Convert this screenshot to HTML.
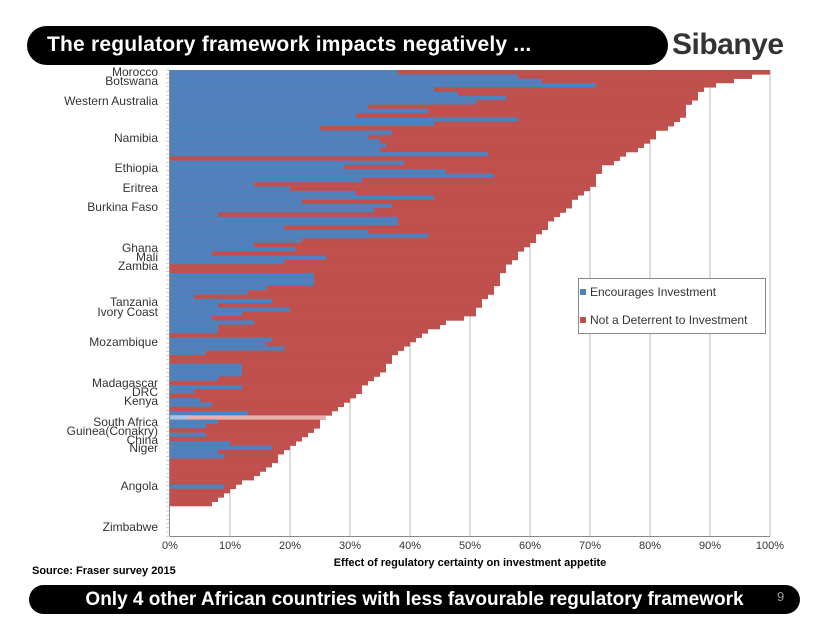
<!DOCTYPE html>
<html><head><meta charset="utf-8"><style>
body{margin:0;width:830px;height:623px;background:#fff;overflow:hidden;position:relative;font-family:"Liberation Sans",sans-serif}
.hdr{position:absolute;left:27px;top:26px;width:641px;height:39px;background:#000;border-radius:20px}
.hdr span{position:absolute;left:20px;top:7px;color:#fff;font-weight:bold;font-size:21px;letter-spacing:0.2px}
.logo{position:absolute;left:672px;top:28px;font-size:30px;font-weight:bold;color:#333;letter-spacing:-0.5px}
.ftr{position:absolute;left:29px;top:585px;width:771px;height:29px;background:#000;border-radius:15px;text-align:center;color:#fff;font-weight:bold;font-size:19px;line-height:29px}
.pg{position:absolute;left:777px;top:589px;color:#999;font-size:13px}
.src{position:absolute;left:32px;top:565px;font-size:11px;font-weight:bold;color:#000}
</style></head><body>
<div class="hdr"><span>The regulatory framework impacts negatively ...</span></div>
<div class="logo">Sibanye</div>
<svg id="c" width="830" height="623" style="position:absolute;left:0;top:0"></svg>
<div class="src">Source: Fraser survey 2015</div>
<div class="ftr">Only 4 other African countries with less favourable regulatory framework</div>
<div class="pg">9</div>
<script>
(function(){
var blue=[38,58,62,71,44,48,56,51,33,43,31,58,44,25,37,33,35,36,35,53,0,39,29,46,54,32,14,20,31,44,22,37,34,8,38,38,19,33,43,22,14,21,7,26,19,0,0,
24,24,24,16,13,4,17,8,20,12,7,14,8,8,0,17,16,19,6,0,0,12,12,12,8,0,12,4,0,5,7,0,13,-1,8,6,0,6,0,10,17,8,9,0,0,0,0,0,0,9,0,0,0,0];
var edge=[[70,770],[74,765],[78,747],[82,729],[86,712],[93,700],[100,694],[108,688],[118,682],[127,670],[132,658],[140,652],[148,640],[153,628],[160,620],[167,602],[180,597],[188,590],[193,585],[202,573],[213,562],[223,549],[232,543],[243,531],[250,525],[260,513],[273,501],[290,495],[315,472],[320,455],[330,430],[337,418],[343,412],[350,400],[355,394],[367,388],[380,370],[395,358],[415,327],[430,315],[440,303],[447,290],[470,266],[480,248],[490,230],[500,218],[507,212]];
function ex(y){for(var i=0;i<edge.length-1;i++){if(y<=edge[i+1][0]){var a=edge[i],b=edge[i+1];return a[1]+(b[1]-a[1])*(y-a[0])/(b[0]-a[0]);}}return 212;}
var s='',n=blue.length,y0=70,y1=506,h=(y1-y0)/n;
for(var g=1;g<=10;g++){var x=170+g*60;s+='<line x1="'+x+'" y1="70" x2="'+x+'" y2="536" stroke="#b8b8b8" stroke-width="1"/>';}
for(var i=0;i<n;i++){var y=y0+i*h,t=ex(y+h/2);t=Math.round((t-170)/6)*6+170;
 var b=blue[i];
 if(b<0){s+='<rect x="170" y="'+y.toFixed(2)+'" width="'+(t-170)+'" height="'+(h+0.3).toFixed(2)+'" fill="#e9b0ae"/><rect x="170" y="'+y.toFixed(2)+'" width="18" height="'+(h+0.3).toFixed(2)+'" fill="#a9c3e4"/>';continue;}
 s+='<rect x="170" y="'+y.toFixed(2)+'" width="'+(t-170)+'" height="'+(h+0.3).toFixed(2)+'" fill="#c0504d"/>';
 if(b>0)s+='<rect x="170" y="'+y.toFixed(2)+'" width="'+(b*6)+'" height="'+(h+0.3).toFixed(2)+'" fill="#4f81bd"/>';}
s+='<line x1="169.5" y1="70" x2="169.5" y2="536" stroke="#888"/><line x1="170" y1="536.5" x2="770" y2="536.5" stroke="#888"/>';
for(var k=0;k<112;k++){var yy=70+k*4.2;s+='<line x1="166" y1="'+yy.toFixed(1)+'" x2="170" y2="'+yy.toFixed(1)+'" stroke="#aaa" stroke-width="0.6"/>';}
for(var g=0;g<=10;g++){s+='<text x="'+(170+g*60)+'" y="549" font-size="11" text-anchor="middle" fill="#333">'+(g*10)+'%</text>';}
s+='<text x="470" y="566" font-size="11" font-weight="bold" text-anchor="middle">Effect of regulatory certainty on investment appetite</text>';
var L=[["Morocco",76],["Botswana",85],["Western Australia",105],["Namibia",142],["Ethiopia",172],["Eritrea",192],["Burkina Faso",211],["Ghana",252],["Mali",261],["Zambia",270],["Tanzania",306],["Ivory Coast",316],["Mozambique",346],["Madagascar",387],["DRC",396],["Kenya",405],["South Africa",426],["Guinea(Conakry)",435],["China",444],["Niger",452],["Angola",490],["Zimbabwe",531]];
L.forEach(function(l){s+='<text x="158" y="'+l[1]+'" font-size="12" text-anchor="end" fill="#333">'+l[0]+'</text>';});
s+='<rect x="578.5" y="278.5" width="187" height="55" fill="#fff" stroke="#888"/>';
s+='<rect x="580" y="289" width="6" height="6" fill="#4f81bd"/><text x="590" y="296" font-size="12" fill="#333">Encourages Investment</text>';
s+='<rect x="580" y="317" width="6" height="6" fill="#c0504d"/><text x="590" y="324" font-size="12" fill="#333">Not a Deterrent to Investment</text>';
document.getElementById('c').innerHTML=s;
})();
</script>
</body></html>
